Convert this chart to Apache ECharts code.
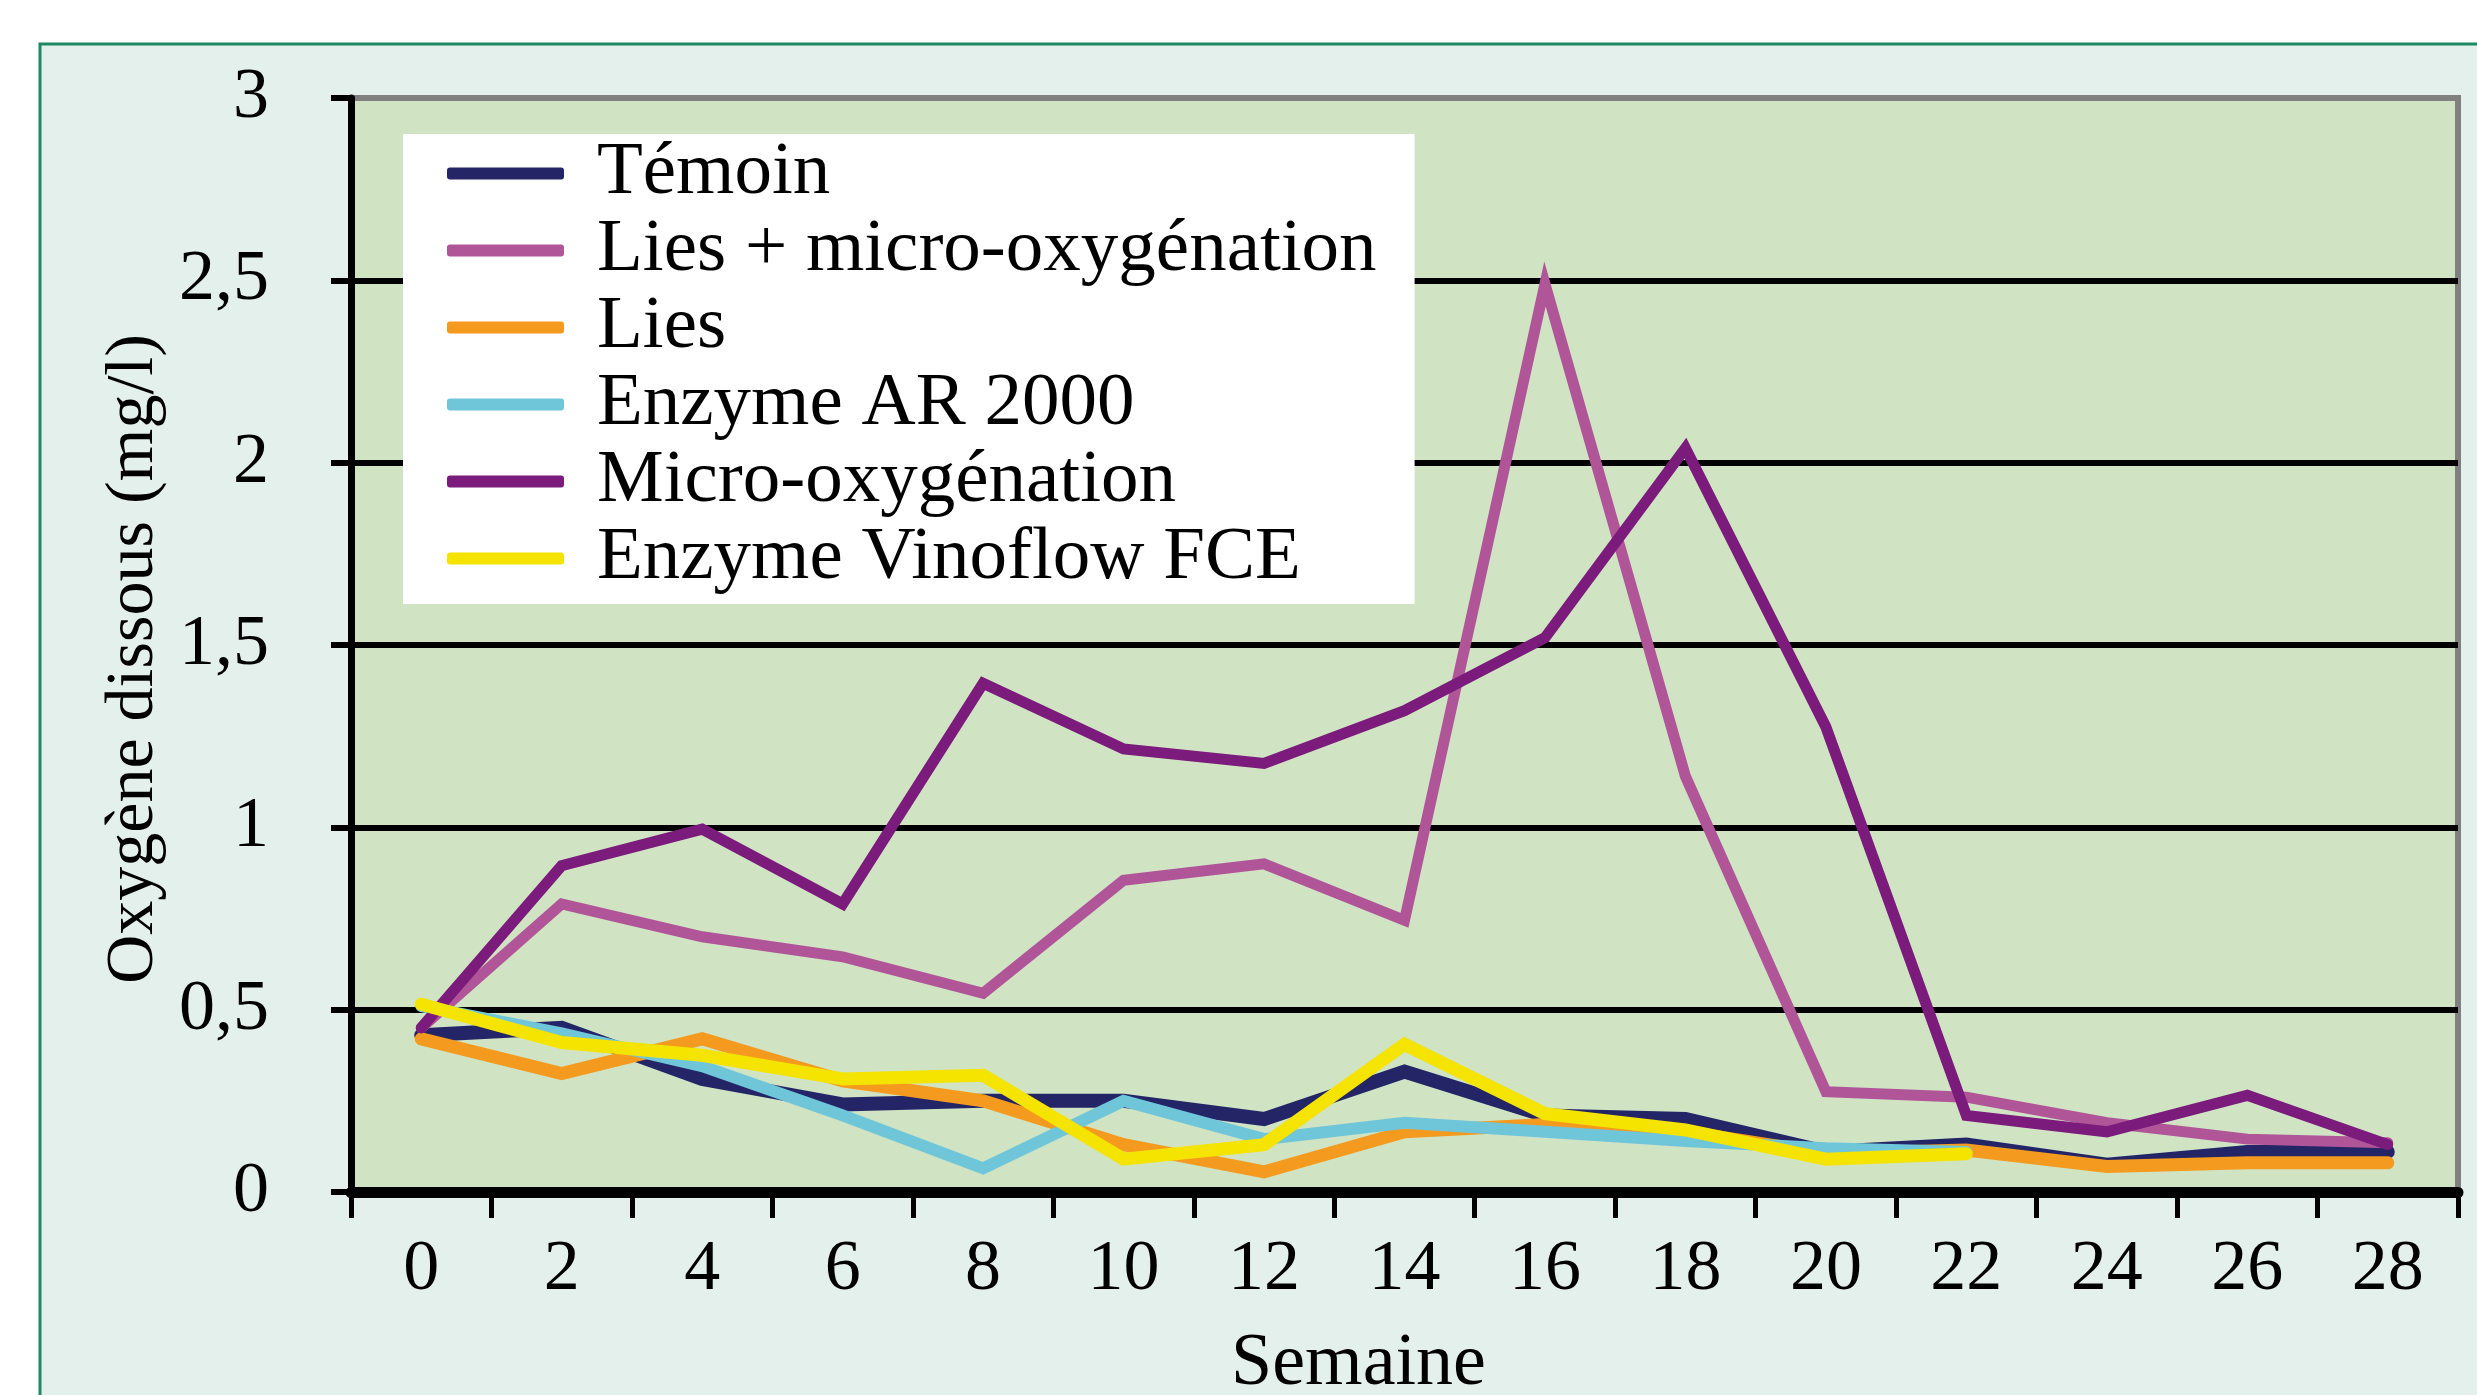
<!DOCTYPE html>
<html>
<head>
<meta charset="utf-8">
<script src="https://cdn.jsdelivr.net/npm/echarts@6/dist/echarts.min.js"></script>
<style>
  html, body { margin: 0; padding: 0; background: #ffffff; }
  #chart { width: 2477px; height: 1395px; }
</style>
</head>
<body>
<div id="chart"></div>
<script>
// semaines
const weeks = ['0', '2', '4', '6', '8', '10', '12', '14', '16', '18', '20', '22', '24', '26', '28'];
const yTicks = [0, 0.5, 1, 1.5, 2, 2.5, 3];

// oxygène dissous (mg/l)
const temoin    = [0.43, 0.45, 0.31, 0.24, 0.25, 0.25, 0.20, 0.33, 0.21, 0.20, 0.11, 0.13, 0.075, 0.11, 0.11];
const liesMicro = [0.45, 0.79, 0.70, 0.645, 0.545, 0.855, 0.90, 0.745, 2.49, 1.14, 0.275, 0.26, 0.19, 0.145, 0.135];
const lies      = [0.42, 0.325, 0.42, 0.305, 0.25, 0.13, 0.055, 0.165, 0.185, 0.165, 0.105, 0.115, 0.07, 0.08, 0.08];
const enzymeAR  = [0.51, 0.435, 0.345, 0.21, 0.065, 0.25, 0.145, 0.19, 0.165, 0.14, 0.12, 0.11, null, null, null];
const microOx   = [0.45, 0.895, 0.995, 0.79, 1.395, 1.215, 1.175, 1.32, 1.52, 2.04, 1.275, 0.21, 0.165, 0.265, 0.13];
const vinoflow  = [0.515, 0.41, 0.375, 0.31, 0.32, 0.09, 0.13, 0.405, 0.215, 0.17, 0.09, 0.105, null, null, null];

const font = 'Liberation Serif';

function mkLine(name, data, color, width) {
  return {
    name: name,
    type: 'line',
    data: data,
    symbol: 'none',
    color: color,
    lineStyle: { color: color, width: width, join: 'miter', cap: 'round' },
    connectNulls: false
  };
}

const chart = echarts.init(document.getElementById('chart'));
chart.setOption({
  animation: false,
  graphic: [{
    type: 'rect',
    z: -10,
    shape: { x: 40, y: 44, width: 2500, height: 1400 },
    style: { fill: '#E4F0EB', stroke: '#1D8A63', lineWidth: 3 }
  }],
  grid: {
    left: 351, top: 98, right: 19, bottom: 203,
    outerBoundsMode: 'none',
    show: true,
    backgroundColor: '#D0E4C4',
    borderColor: '#808080',
    borderWidth: 6
  },
  legend: {
    orient: 'vertical',
    left: 403,
    top: 134,
    backgroundColor: '#ffffff',
    padding: [2, 38, 8, 44],
    itemGap: 2,
    itemWidth: 117,
    itemHeight: 12,
    icon: 'roundRect',
    textStyle: { fontFamily: font, fontSize: 75, color: '#000', padding: [0, 0, 0, 28] },
    data: ['Témoin', 'Lies + micro-oxygénation', 'Lies', 'Enzyme AR 2000', 'Micro-oxygénation', 'Enzyme Vinoflow FCE']
  },
  xAxis: {
    type: 'category',
    data: weeks,
    boundaryGap: true,
    name: 'Semaine',
    nameLocation: 'middle',
    nameGap: 136,
    nameTextStyle: { fontFamily: font, fontSize: 74, color: '#000', padding: [0, 92, 0, 0] },
    axisLine: { lineStyle: { color: '#000', width: 11 } },
    axisTick: { show: true, length: 26, lineStyle: { color: '#000', width: 5 } },
    axisLabel: { fontFamily: font, fontSize: 72, color: '#000', margin: 42 },
    splitLine: { show: false }
  },
  yAxis: {
    type: 'value',
    min: yTicks[0],
    max: yTicks[yTicks.length - 1],
    interval: 0.5,
    name: 'Oxygène dissous (mg/l)',
    nameLocation: 'middle',
    nameGap: 180,
    nameTextStyle: { fontFamily: font, fontSize: 68, color: '#000', padding: [0, 28, 0, 0] },
    axisLine: { show: true, lineStyle: { color: '#000', width: 7 } },
    axisTick: { show: true, length: 20, lineStyle: { color: '#000', width: 6 } },
    axisLabel: {
      fontFamily: font, fontSize: 72, color: '#000', margin: 82,
      formatter: v => String(v).replace('.', ',')
    },
    splitLine: {
      show: true,
      lineStyle: { color: ['#000', '#000', '#000', '#000', '#000', '#000', '#808080'], width: 6 }
    }
  },
  series: [
    mkLine('Témoin', temoin, '#232567', 14),
    mkLine('Lies + micro-oxygénation', liesMicro, '#B15599', 11),
    mkLine('Lies', lies, '#F39A1F', 13),
    mkLine('Enzyme AR 2000', enzymeAR, '#70C6D9', 12),
    mkLine('Micro-oxygénation', microOx, '#7B1B7C', 11),
    mkLine('Enzyme Vinoflow FCE', vinoflow, '#F5E300', 13)
  ]
});
</script>
</body>
</html>
